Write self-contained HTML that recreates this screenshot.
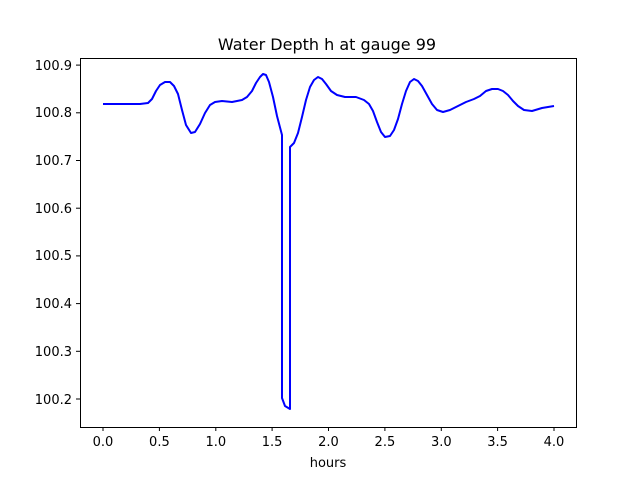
<!DOCTYPE html>
<html><head><style>body{margin:0;background:#fff}</style></head><body>
<svg width="640" height="480" xmlns="http://www.w3.org/2000/svg" font-family="DejaVu Sans, sans-serif">
<rect width="640" height="480" fill="#fff"/>
<text x="327" y="50" font-size="16" text-anchor="middle" fill="#000">Water Depth h at gauge 99</text>
<polyline fill="none" stroke="#0000ff" stroke-width="2" stroke-linejoin="round" points="103,104 140,104 148,103 152,99 156,91 160,85 165,82 170,82 174,86 178,94 182,110 186,125 191,133 195,132 200,124 205,113 210,105 215,102 222,101 232,102 242,100 247,97 252,91 256,83 260,77 263,74 266,75 269,82 273,97 277,116 282,135 282,398 285,406 290,409 290,147 294,143 298,133 302,117 306,100 310,87 314,80 318,77 322,79 326,84 331,91 337,95 345,97 356,97 364,100 369,104 373,111 377,122 381,132 385,137 390,136 394,130 398,119 402,104 406,91 410,82 414,79 418,81 422,86 427,95 432,104 437,110 443,112 450,110 458,106 466,102 474,99 480,96 486,91 492,89 498,89 503,91 508,95 513,101 518,106 524,110 532,111 542,108 554,106"/>
<rect x="80.5" y="58.5" width="496" height="369" fill="none" stroke="#000" stroke-width="1"/>
<g stroke="#000" stroke-width="1">
<line x1="103" y1="427" x2="103" y2="431"/><line x1="159.4" y1="427" x2="159.4" y2="431"/><line x1="215.8" y1="427" x2="215.8" y2="431"/><line x1="272.1" y1="427" x2="272.1" y2="431"/><line x1="328.5" y1="427" x2="328.5" y2="431"/><line x1="384.9" y1="427" x2="384.9" y2="431"/><line x1="441.3" y1="427" x2="441.3" y2="431"/><line x1="497.6" y1="427" x2="497.6" y2="431"/><line x1="554" y1="427" x2="554" y2="431"/>
<line x1="76" y1="399" x2="80" y2="399"/><line x1="76" y1="351.3" x2="80" y2="351.3"/><line x1="76" y1="303.6" x2="80" y2="303.6"/><line x1="76" y1="255.9" x2="80" y2="255.9"/><line x1="76" y1="208.2" x2="80" y2="208.2"/><line x1="76" y1="160.5" x2="80" y2="160.5"/><line x1="76" y1="112.8" x2="80" y2="112.8"/><line x1="76" y1="65.1" x2="80" y2="65.1"/>
</g>
<g font-size="13" fill="#000" text-anchor="middle">
<text x="103" y="446">0.0</text><text x="159.4" y="446">0.5</text><text x="215.8" y="446">1.0</text><text x="272.1" y="446">1.5</text><text x="328.5" y="446">2.0</text><text x="384.9" y="446">2.5</text><text x="441.3" y="446">3.0</text><text x="497.6" y="446">3.5</text><text x="554" y="446">4.0</text>
<text x="328" y="467">hours</text>
</g>
<g font-size="13" fill="#000" text-anchor="end">
<text x="72" y="404">100.2</text><text x="72" y="356">100.3</text><text x="72" y="308">100.4</text><text x="72" y="260">100.5</text><text x="72" y="213">100.6</text><text x="72" y="165">100.7</text><text x="72" y="117">100.8</text><text x="72" y="70">100.9</text>
</g>
</svg>
</body></html>
